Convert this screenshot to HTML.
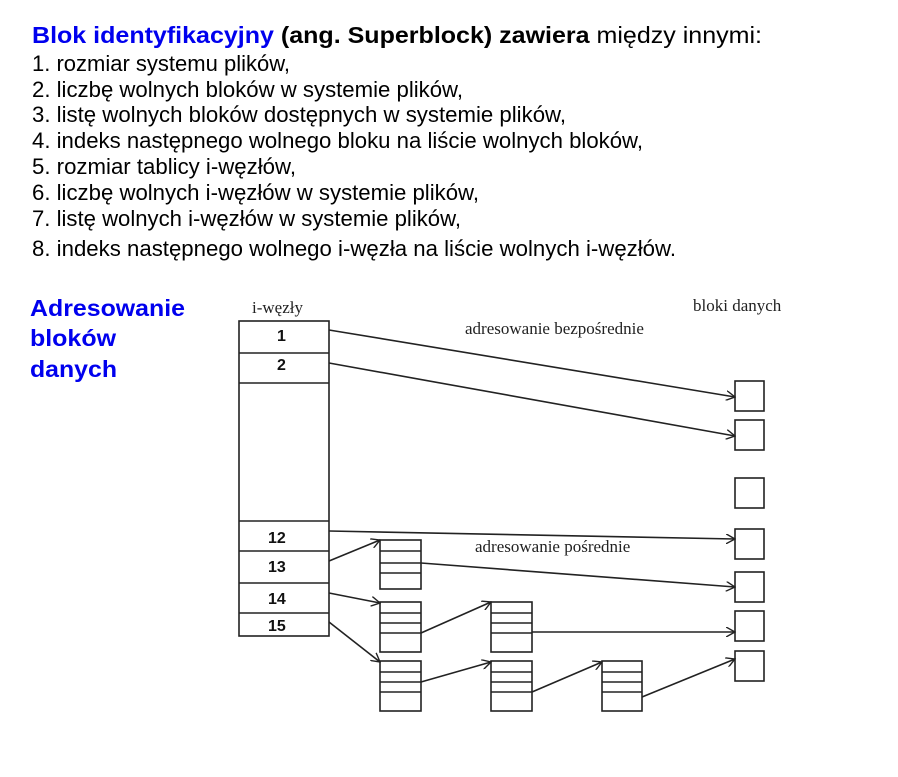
<!DOCTYPE html>
<html><head><meta charset="utf-8"><style>
body{margin:0;background:#fff;}
svg{display:block;}
.t{font-family:"Liberation Sans",sans-serif;font-size:22px;fill:#000;}
.b{font-weight:bold;}
.blue{fill:#0000ee;}
.s{font-family:"Liberation Serif",serif;font-size:17px;fill:#222;}
.n{font-family:"Liberation Sans",sans-serif;font-size:16px;font-weight:bold;fill:#111;}
line,rect,path{stroke:#222;stroke-width:1.6;fill:none;}
</style></head><body>
<svg width="898" height="777" viewBox="0 0 898 777" xmlns="http://www.w3.org/2000/svg">
<defs><marker id="a" markerWidth="10" markerHeight="10" refX="9" refY="5" orient="auto" markerUnits="userSpaceOnUse"><path d="M0,0 L9,5 L0,10" style="stroke:#222;stroke-width:1.4;fill:none"/></marker></defs>
<text class="t" x="32" y="43" style="font-size:23px" textLength="730" lengthAdjust="spacingAndGlyphs"><tspan class="b blue">Blok identyfikacyjny</tspan><tspan class="b"> (ang. Superblock) zawiera</tspan> między innymi:</text>
<text class="t" x="32" y="71" textLength="258" lengthAdjust="spacingAndGlyphs">1. rozmiar systemu plików,</text>
<text class="t" x="32" y="97" textLength="431" lengthAdjust="spacingAndGlyphs">2. liczbę wolnych bloków w systemie plików,</text>
<text class="t" x="32" y="122" textLength="534" lengthAdjust="spacingAndGlyphs">3. listę wolnych bloków dostępnych w systemie plików,</text>
<text class="t" x="32" y="148" textLength="611" lengthAdjust="spacingAndGlyphs">4. indeks następnego wolnego bloku na liście wolnych bloków,</text>
<text class="t" x="32" y="174" textLength="264" lengthAdjust="spacingAndGlyphs">5. rozmiar tablicy i-węzłów,</text>
<text class="t" x="32" y="200" textLength="447" lengthAdjust="spacingAndGlyphs">6. liczbę wolnych i-węzłów w systemie plików,</text>
<text class="t" x="32" y="226" textLength="429" lengthAdjust="spacingAndGlyphs">7. listę wolnych i-węzłów w systemie plików,</text>
<text class="t" x="32" y="256" textLength="644" lengthAdjust="spacingAndGlyphs">8. indeks następnego wolnego i-węzła na liście wolnych i-węzłów.</text>
<text class="t b blue" x="30" y="316" style="font-size:23px" textLength="155" lengthAdjust="spacingAndGlyphs">Adresowanie</text>
<text class="t b blue" x="30" y="346" style="font-size:23px" textLength="86" lengthAdjust="spacingAndGlyphs">bloków</text>
<text class="t b blue" x="30" y="377" style="font-size:23px" textLength="87" lengthAdjust="spacingAndGlyphs">danych</text>

<text class="s" x="252" y="313">i-węzły</text>
<text class="s" x="693" y="311">bloki danych</text>
<text class="s" x="465" y="334">adresowanie bezpośrednie</text>
<text class="s" x="475" y="552">adresowanie pośrednie</text>

<rect x="239" y="321" width="90" height="315"/>
<line x1="239" y1="353" x2="329" y2="353"/><line x1="239" y1="383" x2="329" y2="383"/>
<line x1="239" y1="521" x2="329" y2="521"/><line x1="239" y1="551" x2="329" y2="551"/>
<line x1="239" y1="583" x2="329" y2="583"/><line x1="239" y1="613" x2="329" y2="613"/>
<text class="n" x="277" y="341">1</text><text class="n" x="277" y="370">2</text>
<text class="n" x="268" y="543">12</text><text class="n" x="268" y="572">13</text>
<text class="n" x="268" y="604">14</text><text class="n" x="268" y="631">15</text>

<rect x="735" y="381" width="29" height="30"/><rect x="735" y="420" width="29" height="30"/>
<rect x="735" y="478" width="29" height="30"/><rect x="735" y="529" width="29" height="30"/>
<rect x="735" y="572" width="29" height="30"/><rect x="735" y="611" width="29" height="30"/>
<rect x="735" y="651" width="29" height="30"/>

<g>
<rect x="380" y="540" width="41" height="49"/><line x1="380" y1="551" x2="421" y2="551"/><line x1="380" y1="563" x2="421" y2="563"/><line x1="380" y1="573" x2="421" y2="573"/>
<rect x="380" y="602" width="41" height="50"/><line x1="380" y1="613" x2="421" y2="613"/><line x1="380" y1="623" x2="421" y2="623"/><line x1="380" y1="633" x2="421" y2="633"/>
<rect x="380" y="661" width="41" height="50"/><line x1="380" y1="672" x2="421" y2="672"/><line x1="380" y1="682" x2="421" y2="682"/><line x1="380" y1="692" x2="421" y2="692"/>
<rect x="491" y="602" width="41" height="50"/><line x1="491" y1="613" x2="532" y2="613"/><line x1="491" y1="623" x2="532" y2="623"/><line x1="491" y1="633" x2="532" y2="633"/>
<rect x="491" y="661" width="41" height="50"/><line x1="491" y1="672" x2="532" y2="672"/><line x1="491" y1="682" x2="532" y2="682"/><line x1="491" y1="692" x2="532" y2="692"/>
<rect x="602" y="661" width="40" height="50"/><line x1="602" y1="672" x2="642" y2="672"/><line x1="602" y1="682" x2="642" y2="682"/><line x1="602" y1="692" x2="642" y2="692"/>
</g>

<g marker-end="url(#a)">
<line x1="329" y1="330" x2="735" y2="397"/>
<line x1="329" y1="363" x2="735" y2="436"/>
<line x1="329" y1="531" x2="735" y2="539"/>
<line x1="329" y1="561" x2="380" y2="540"/>
<line x1="421" y1="563" x2="735" y2="587"/>
<line x1="329" y1="593" x2="380" y2="603"/>
<line x1="421" y1="633" x2="491" y2="602"/>
<line x1="532" y1="632" x2="735" y2="632"/>
<line x1="329" y1="622" x2="380" y2="662"/>
<line x1="421" y1="682" x2="491" y2="662"/>
<line x1="532" y1="692" x2="602" y2="662"/>
<line x1="642" y1="697" x2="735" y2="659"/>
</g>
</svg>
</body></html>
